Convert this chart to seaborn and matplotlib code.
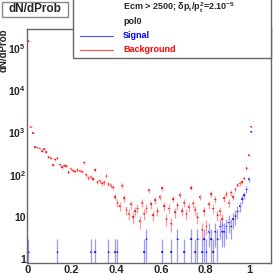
import numpy as np
import pandas as pd
import matplotlib
matplotlib.use('Agg')
import matplotlib.pyplot as plt
from matplotlib.patches import Rectangle
from matplotlib.lines import Line2D
from matplotlib.ticker import FixedLocator, MultipleLocator, LogLocator, FuncFormatter, NullFormatter
import seaborn as sns

# histogram contents, 0.01 wide bins starting at prob = 0
bin_width = 0.01
bkg_counts = [145000, 1350, 980, 450, 440, 420, 360, 400, 340, 265,
              245, 170, 230, 250, 175, 150, 165, 160, 115, 140,
              125, 120, 130, 125, 118, 195, 100, 85, 90, 78,
              130, 68, 72, 62, 66, 95, 60, 55, 50, 30,
              22, 18, 55, 28, 15, 12, 20, 10, 14, 16,
              8, 22, 12, 16, 43, 20, 11, 25, 14, 30,
              48, 18, 9, 16, 7, 27, 13, 19, 33, 14,
              22, 12, 17, 49, 21, 15, 10, 30, 5, 14,
              6, 20, 35, 16, 26, 11, 14, 9, 28, 35,
              22, 38, 30, 45, 57, 62, 67, 82, 142, 290,
              1370]
sig_counts = [1.5, 0, 0, 0, 0, 0, 0, 0, 0, 0,
              0, 0, 0, 1.5, 0, 0, 0, 0, 0, 0,
              0, 0, 0, 0, 0, 0, 0, 0, 1.5, 0,
              1.5, 0, 0, 0, 0, 0, 1.5, 0, 0, 1.5,
              1.5, 0, 0, 0, 0, 0, 0, 0, 0, 0,
              0, 0, 1.5, 3.0, 0, 0, 0, 0, 0, 0,
              1.5, 0, 0, 0, 1.5, 0, 0, 3.0, 0, 0,
              1.5, 0, 0, 3.0, 0, 1.5, 3.0, 0, 1.5, 3.0,
              1.5, 4.5, 3.0, 1.5, 4.5, 3.0, 6.0, 4.5, 4.5, 6.0,
              7.5, 6.0, 9.0, 10.5, 13.5, 18, 27, 33, 45, 78,
              1040]
bkg_weight = 0.9
sig_weight = 1.5

centers = np.arange(len(bkg_counts)) * bin_width + bin_width / 2
df = pd.DataFrame({
    'prob': np.concatenate([centers, centers]),
    'n': bkg_counts + sig_counts,
    'sample': ['Background'] * len(bkg_counts) + ['Signal'] * len(sig_counts),
    'w': [bkg_weight] * len(bkg_counts) + [sig_weight] * len(sig_counts),
})
df = df[df.n > 0].copy()
df['err'] = np.sqrt(df.w * df.n)
colors = {'Background': '#ff0000', 'Signal': '#0000ff'}

sns.set_style('white')
plt.rcParams['font.family'] = ['Liberation Sans', 'DejaVu Sans']
plt.rcParams['font.weight'] = 'bold'
plt.rcParams['mathtext.fontset'] = 'custom'
plt.rcParams['mathtext.rm'] = 'Liberation Sans:bold'
plt.rcParams['mathtext.it'] = 'Liberation Sans:bold'
plt.rcParams['mathtext.bf'] = 'Liberation Sans:bold'
plt.rcParams['mathtext.default'] = 'rm'

W, H = 273, 274
fig = plt.figure(figsize=(W / 100, H / 100), dpi=100)
ax = fig.add_axes([27.3 / W, 11.3 / H, 244 / W, 233.4 / H])
ax.set_yscale('log')

for name in ['Background', 'Signal']:
    sub = df[df['sample'] == name]
    lo = np.minimum(sub.err, sub.n - 0.01)
    ax.errorbar(sub.prob, sub.n, xerr=bin_width / 2, yerr=[lo, sub.err], fmt='none',
                ecolor=colors[name], alpha=0.4, elinewidth=0.9, capsize=0)
sns.scatterplot(data=df, x='prob', y='n', hue='sample', palette=colors, marker='s',
                s=1.2, linewidth=0, alpha=0.7, legend=False, ax=ax)

ax.set_xlim(0, 1.097)
ax.set_ylim(0.83, 2.74e5)
ax.set_xlabel('')
ax.set_ylabel('')

ax.xaxis.set_major_locator(FixedLocator([0, 0.2, 0.4, 0.6, 0.8, 1.0]))
ax.xaxis.set_minor_locator(MultipleLocator(0.05))
ax.xaxis.set_major_formatter(FuncFormatter(lambda v, p: f'{v:g}'))


def log_label(v, p):
    k = int(round(np.log10(v)))
    if k == 0:
        return '1'
    if k == 1:
        return '10'
    return rf'$10^{{{k}}}$'


ax.yaxis.set_major_locator(LogLocator(base=10, numticks=10))
ax.yaxis.set_minor_locator(LogLocator(base=10, subs=np.arange(2, 10), numticks=20))
ax.yaxis.set_major_formatter(FuncFormatter(log_label))
ax.yaxis.set_minor_formatter(NullFormatter())

ax.tick_params(axis='both', which='both', direction='in', color='#888888', width=0.8,
               labelsize=8, pad=2, top=False, right=False)
ax.tick_params(axis='x', which='major', length=5)
ax.tick_params(axis='x', which='minor', length=2.5)
ax.tick_params(axis='y', which='major', length=5.8, pad=1, labelsize=7.5)
ax.tick_params(axis='y', which='minor', length=2.9)
for s in ax.spines.values():
    s.set_color('#666666')
    s.set_linewidth(1)

fig.text(4 / W, 1 - 28 / H, 'dN/dProb', rotation=90, ha='center', va='top', fontsize=7,
         fontweight='bold')

# title box with shadow
fig.patches.append(Rectangle((2.7 / W, 1 - 17.7 / H), 66.3 / W, 15 / H, transform=fig.transFigure,
                             facecolor='#666666', edgecolor='none', zorder=5))
fig.patches.append(Rectangle((1.7 / W, 1 - 16.7 / H), 66.3 / W, 15 / H, transform=fig.transFigure,
                             facecolor='white', edgecolor='#888888', linewidth=1, zorder=6))
fig.text(34.8 / W, 1 - 9.5 / H, 'dN/dProb', ha='center', va='center', fontsize=8.5,
         fontweight='bold', zorder=7)

# legend box
fig.patches.append(Rectangle((73.3 / W, 1 - 58.3 / H), 198 / W, 60 / H, transform=fig.transFigure,
                             facecolor='white', edgecolor='#666666', linewidth=1, zorder=5))
fig.text(123 / W, 1 - 8 / H, r'Ecm > 2500; δp$_t$/p$_t^2$=2.10$^{-5}$', ha='left', va='center',
         fontsize=6.5, fontweight='bold', zorder=7)
fig.text(123 / W, 1 - 22 / H, 'pol0', ha='left', va='center', fontsize=6.5, fontweight='bold', zorder=7)
for name, yy in [('Signal', 35.5), ('Background', 50)]:
    fig.lines.append(Line2D([80 / W, 113 / W], [1 - yy / H, 1 - yy / H], transform=fig.transFigure,
                            color=colors[name], linewidth=0.8, alpha=0.7, zorder=7))
    fig.text(123 / W, 1 - yy / H, name, ha='left', va='center', fontsize=6.5, fontweight='bold',
             color=colors[name], zorder=7)

fig.savefig('out.png', dpi=100)
